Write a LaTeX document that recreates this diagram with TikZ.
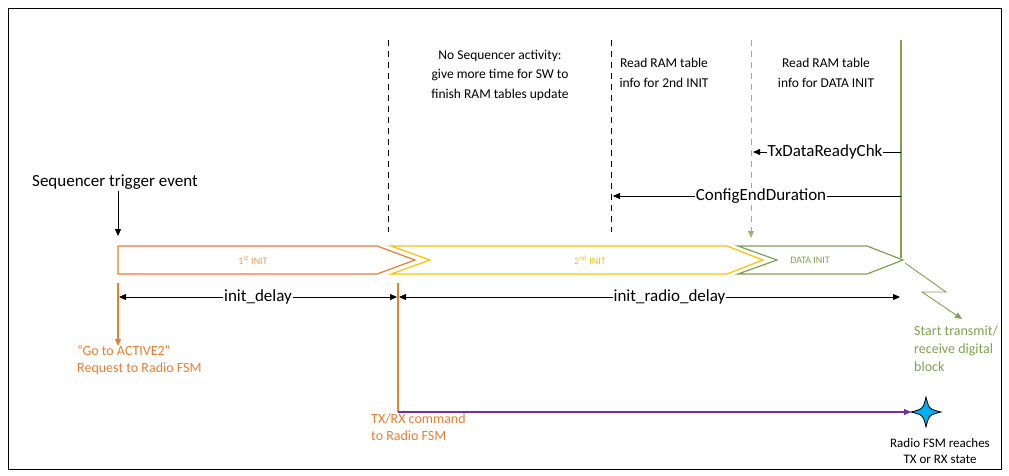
\documentclass[tikz,border=0pt]{standalone}
\usepackage{fontspec}
\setmainfont{Carlito}
\usetikzlibrary{arrows.meta}
\definecolor{orng}{HTML}{ED7D31}
\definecolor{yel}{HTML}{FFC000}
\definecolor{grn}{HTML}{7EA24E}
\definecolor{purp}{HTML}{7030A0}
\definecolor{sky}{HTML}{00B0F0}
\begin{document}
\begin{tikzpicture}[x=1pt,y=-1pt,
  arr/.style={-{Triangle[length=7pt,width=6pt]}},
  dim/.style={{Triangle[length=7pt,width=6pt]}-{Triangle[length=7pt,width=6pt]},thick},
  lbl/.style={font=\fontsize{17}{19}\selectfont,fill=white,inner sep=1pt},
  top/.style={font=\fontsize{13.5}{19.5}\selectfont,align=center},
  otxt/.style={font=\fontsize{14}{16.5}\selectfont,align=left,text=orng,fill=white,inner sep=1pt},
  chev/.style={line width=1.2pt}]
\useasboundingbox (0,0) rectangle (1009,475);
\draw[line width=0.8pt] (8,8) rectangle (1001,469);
% vertical markers
\coordinate (d1t) at (388,40); \coordinate (d1b) at (388,232);
\coordinate (d2t) at (611,40); \coordinate (d2b) at (611,232);
\draw[line width=0.8pt,dash pattern=on 6pt off 5pt] (d1t)--(d1b);
\draw[line width=0.8pt,dash pattern=on 6pt off 5pt] (d2t)--(d2b);
\coordinate (g1t) at (751,40); \coordinate (g1b) at (751,238);
\draw[grn!80,line width=0.8pt,dash pattern=on 6pt off 5pt,arr] (g1t)--(g1b);
\coordinate (g2t) at (901,40); \coordinate (g2b) at (901,258);
\draw[grn,line width=1.2pt] (g2t)--(g2b);
% top texts
\node[top] (t1) at (500,75) {No Sequencer activity:\\give more time for SW to\\finish RAM tables update};
\node[top] (t2) at (664,73) {Read RAM table\\info for 2nd INIT};
\node[top] (t3) at (826,73) {Read RAM table\\info for DATA INIT};
% chevrons
\draw[orng,chev] (118,246)--(377,246)--(415,260)--(377,274)--(118,274)--cycle;
\draw[yel,chev] (391,246)--(727,246)--(763,260)--(727,274)--(391,274)--(430,260)--cycle;
\draw[grn,chev] (738,246)--(867,246)--(903,260)--(867,274)--(738,274)--(777,260)--cycle;
\node[text=orng!80,font=\fontsize{10}{10}\selectfont] (c1) at (253,260) {1\textsuperscript{st} INIT};
\node[text=yel,font=\fontsize{10}{10}\selectfont] (c2) at (590,260) {2\textsuperscript{nd} INIT};
\node[text=grn,font=\fontsize{10}{10}\selectfont] (c3) at (810,260) {DATA INIT};
% trigger
\node[font=\fontsize{17}{19}\selectfont,anchor=west,inner sep=1pt] (trg) at (31,182) {Sequencer trigger event};
\coordinate (trgb) at (118,236);
\draw[arr,thick] (trg.south -| trgb)--(trgb);
% ConfigEndDuration / TxDataReadyChk
\coordinate (ce1) at (901,196); \coordinate (ce2) at (613,196);
\draw[arr,thick] (ce1)--(ce2) node[lbl,midway,xshift=4pt] {ConfigEndDuration};
\coordinate (tx1) at (901,152); \coordinate (tx2) at (753,152);
\draw[arr,thick] (tx1)--(tx2) node[lbl,midway,xshift=-2pt] {TxDataReadyChk};
% orange ticks
\coordinate (o1t) at (118,283); \coordinate (o1b) at (118,346);
\coordinate (o2t) at (398,283); \coordinate (o2b) at (398,412);
\draw[orng,line width=1.3pt,arr] (o1t)--(o1b);
\draw[orng,line width=1.3pt] (o2t)--(o2b);
% dimensions
\coordinate (a1) at (119,297); \coordinate (a2) at (397,297);
\coordinate (a3) at (399,297); \coordinate (a4) at (900,297);
\draw[dim] (a1)--(a2) node[lbl,midway] {init\_delay};
\draw[dim] (a3)--(a4) node[lbl,midway,xshift=20pt] {init\_radio\_delay};
% purple arrow and star
\coordinate (star) at (926,412);
\fill[sky,draw=black,line width=0.8pt] (926,397) .. controls (929,409) .. (941,412) .. controls (929,415) .. (926,427) .. controls (923,415) .. (911,412) .. controls (923,409) .. (926,397) -- cycle;
\draw[purp,line width=1.2pt,arr] (o2b)--(911,412);
% orange texts
\node[otxt,anchor=west] (go) at (76,360) {"Go to ACTIVE2"\\Request to Radio FSM};
\node[otxt,anchor=north west] (txc) at (370,413) {TX/RX command\\to Radio FSM};
\node[font=\fontsize{13}{16}\selectfont,align=center] (rf) at (940,451) {Radio FSM reaches\\TX or RX state};
% zigzag
\coordinate (z0) at (905,263); \coordinate (z1) at (946,292); \coordinate (z2) at (922,292); \coordinate (z3) at (962,319);
\draw[grn,line width=0.9pt,arr] (z0)--(z1)--(z2)--(z3);
\node[font=\fontsize{14}{18}\selectfont,align=left,text=grn,anchor=north west,inner sep=1pt] (st) at (913,325) {Start transmit/\\receive digital\\block};
\end{tikzpicture}
\end{document}
